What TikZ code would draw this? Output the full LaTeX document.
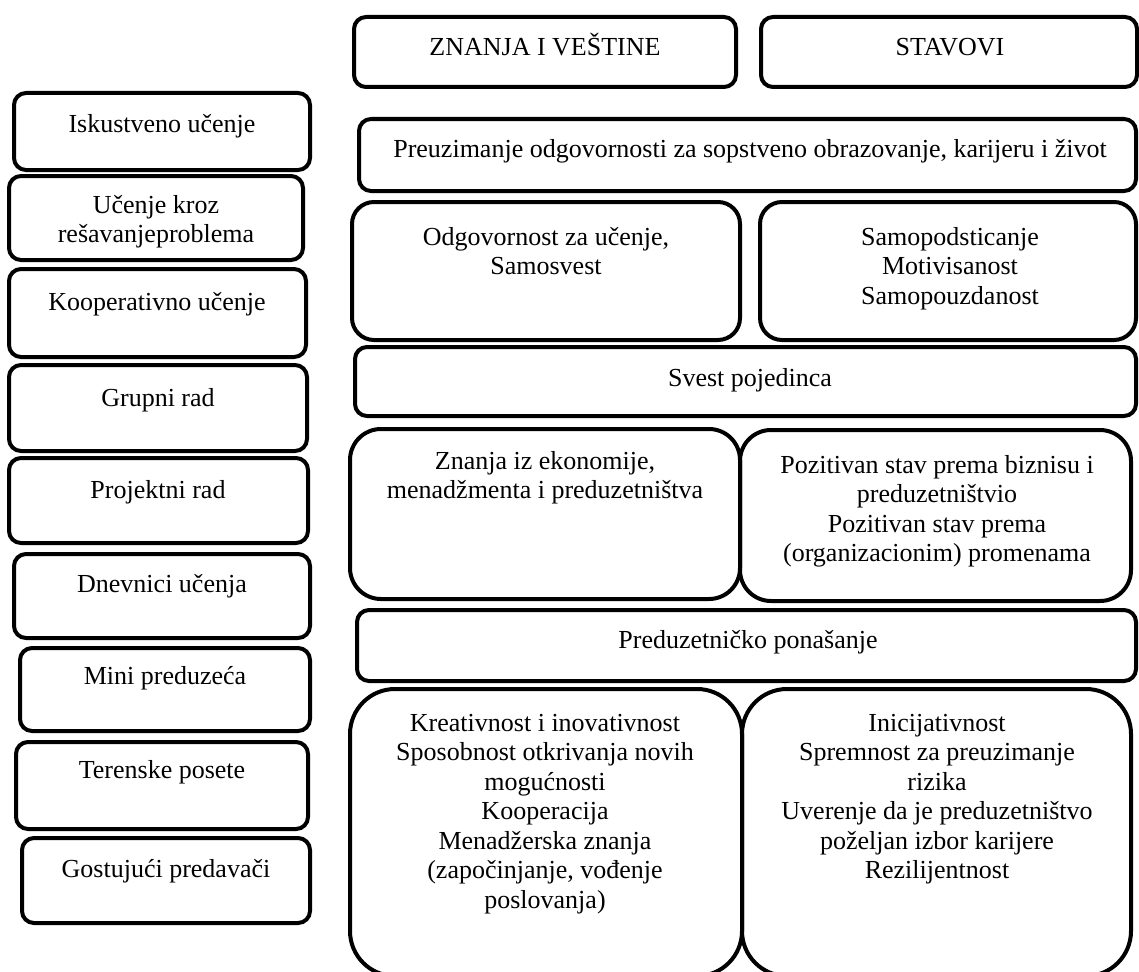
\documentclass[tikz,border=0pt]{standalone}
\usepackage{fontspec}
\setmainfont{Liberation Serif}
\newcommand\fsz{\fontsize{26}{29.5}\selectfont}
\begin{document}
\begin{tikzpicture}[x=1pt,y=-1pt,
  box/.style={draw,line width=4pt,rounded corners=12pt},
  boxm/.style={draw,line width=4pt,rounded corners=22pt},
  boxl/.style={draw,line width=4pt,rounded corners=31pt},
  boxxl/.style={draw,line width=4pt,rounded corners=45pt},
  tone/.style={font=\fsz,anchor=base,inner sep=0pt},
  tmul/.style={font=\fsz,align=center,anchor=north,inner sep=0pt,execute at begin node=\strut}]
\useasboundingbox (0,0) rectangle (1139,971);
\clip (0,0) rectangle (1139,971);
% left column
\draw[box] (14,93) rectangle (310,170);
\node[tone] (isk) at (162,132) {Iskustveno učenje};
\draw[box] (9,176) rectangle (303,260);
\node[tmul] (ucenje) at (156,195) {Učenje kroz\\rešavanjeproblema};
\draw[box] (9,269) rectangle (306,357);
\node[tone] (koop) at (157,310) {Kooperativno učenje};
\draw[box] (9,365) rectangle (307,451);
\node[tone] (grupni) at (158,406) {Grupni rad};
\draw[box] (9,458) rectangle (308,543);
\node[tone] (projekt) at (158,498) {Projektni rad};
\draw[box] (14,554) rectangle (310,638);
\node[tone] (dnevnici) at (162,592) {Dnevnici učenja};
\draw[box] (20,648) rectangle (310,731);
\node[tone] (mini) at (165,684) {Mini preduzeća};
\draw[box] (16,742) rectangle (308,829);
\node[tone] (teren) at (162,778) {Terenske posete};
\draw[box] (22,838) rectangle (310,923);
\node[tone] (gost) at (166,877) {Gostujući predavači};
% right part
\draw[box] (354,17) rectangle (736,87);
\node[tone] (znanja) at (545,56) {ZNANJA I VEŠTINE};
\draw[box] (761,17) rectangle (1137,87);
\node[tone] (stavovi) at (950,56) {STAVOVI};
\draw[box] (359,119) rectangle (1136,191);
\node[tone] (preuz) at (750,157) {Preuzimanje odgovornosti za sopstveno obrazovanje, karijeru i život};
\draw[boxm] (352,202) rectangle (740,340);
\node[tmul] (odgov) at (546,227) {Odgovornost za učenje,\\Samosvest};
\draw[boxm] (760,202) rectangle (1136,340);
\node[tmul] (samo) at (950,227) {Samopodsticanje\\Motivisanost\\Samopouzdanost};
\draw[box] (355,347) rectangle (1136,416);
\node[tone] (svest) at (750,386) {Svest pojedinca};
\draw[boxl] (350,429) rectangle (740,599);
\node[tmul] (ekon) at (545,451) {Znanja iz ekonomije,\\menadžmenta i preduzetništva};
\draw[boxl] (740,430) rectangle (1131,601);
\node[tmul] (pozit) at (937,455) {Pozitivan stav prema biznisu i\\preduzetništvio\\Pozitivan stav prema\\(organizacionim) promenama};
\draw[box] (357,610) rectangle (1136,681);
\node[tone] (predponas) at (748,648) {Preduzetničko ponašanje};
\draw[boxxl] (350,689) rectangle (742,976);
\node[tmul] (kreat) at (545,714) {Kreativnost i inovativnost\\Sposobnost otkrivanja novih\\mogućnosti\\Kooperacija\\Menadžerska znanja\\(započinjanje, vođenje\\poslovanja)};
\draw[boxxl] (742,689) rectangle (1131,976);
\node[tmul] (inic) at (937,714) {Inicijativnost\\Spremnost za preuzimanje\\rizika\\Uverenje da je preduzetništvo\\poželjan izbor karijere\\Rezilijentnost};
\end{tikzpicture}
\end{document}
